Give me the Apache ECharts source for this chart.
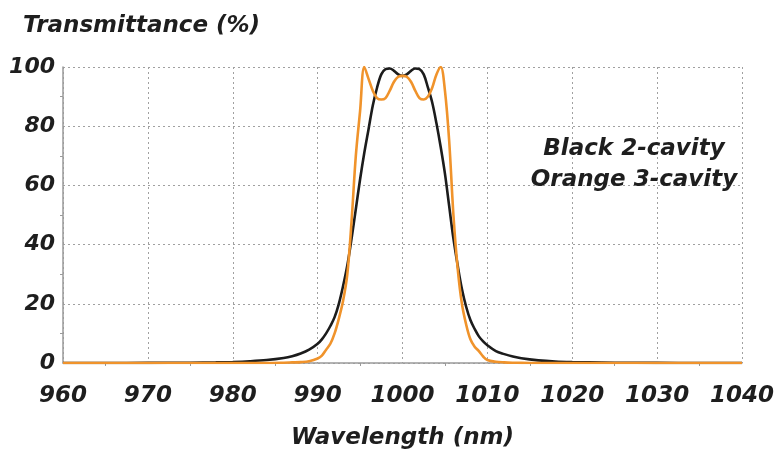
<!DOCTYPE html>
<html>
<head>
<meta charset="utf-8">
<script src="https://cdn.jsdelivr.net/npm/echarts@6/dist/echarts.min.js"></script>
<style>
  html, body { margin: 0; padding: 0; background: #fff; }
  #chart { width: 778px; height: 457px; }
</style>
</head>
<body>
<div id="chart"></div>
<script>
// Wavelength samples (nm), denser across the passband
const wavelengths = [
  960, 965, 970, 975, 978, 980, 982, 984, 986, 987, 988, 989, 990, 990.5, 991, 991.5,
  992, 992.5, 993, 993.5, 994, 994.5, 995, 995.5, 996, 996.5, 997, 997.5, 998, 998.5,
  999, 999.5, 1000, 1000.5, 1001, 1001.5, 1002, 1002.5, 1003, 1003.5, 1004, 1004.5,
  1005, 1005.5, 1006, 1006.5, 1007, 1007.5, 1008, 1008.5, 1009, 1009.5, 1010, 1011,
  1012, 1013, 1014, 1016, 1018, 1020, 1022, 1025, 1030, 1035, 1040
];

// Transmittance (%) of the 2-cavity filter
const twoCavity = [
  0, 0, 0.05, 0.1, 0.2, 0.35, 0.6, 1.0, 1.7, 2.3, 3.2, 4.5, 6.5, 8, 10, 12.5,
  15.5, 20, 26, 33, 42, 52, 62, 71, 79, 87, 93, 97.5, 99.3, 99.5,
  98.7, 97.5, 97, 97.5, 98.7, 99.5, 99.3, 97.5, 93, 88, 81, 73,
  64, 53, 42, 33, 25, 19, 14.5, 11.5, 9, 7.3, 6, 4,
  3, 2.2, 1.6, 0.9, 0.5, 0.3, 0.2, 0.1, 0.05, 0, 0
];

// Transmittance (%) of the 3-cavity filter
const threeCavity = [
  0, 0, 0, 0, 0, 0, 0, 0, 0.1, 0.2, 0.3, 0.6, 1.5, 2.5, 4.5, 6.5,
  10, 15, 21, 30, 48, 70, 85, 100, 96, 92, 89.5, 89, 89.5, 92,
  95, 96.7, 97, 96.7, 95, 92, 89.5, 89, 90, 93, 97.5, 100,
  92, 75, 50, 32, 20, 13, 8, 5.5, 4, 2.2, 1, 0.4,
  0.2, 0.1, 0.05, 0, 0, 0, 0, 0, 0, 0, 0
];

const xTicks = { min: 960, max: 1040, step: 10 };
const yTicks = { min: 0, max: 100, step: 20 };

const labels = {
  yTitle: 'Transmittance (%)',
  xTitle: 'Wavelength (nm)',
  note1: 'Black 2-cavity',
  note2: 'Orange 3-cavity'
};

const pair = (xs, ys) => xs.map((x, i) => [x, ys[i]]);

const FONT = '"DejaVu Sans", Verdana, sans-serif';
const TEXT_COLOR = '#1e1e1e';
const boldItalic = (size) => ({ fontFamily: FONT, fontSize: size, fontWeight: 'bold', fontStyle: 'italic', color: TEXT_COLOR });
const gridLine = { show: true, lineStyle: { color: '#a0a0a0', width: 1, type: [2, 3] } };

const chart = echarts.init(document.getElementById('chart'), null, { renderer: 'canvas' });

chart.setOption({
  animation: false,
  backgroundColor: '#fff',
  textStyle: { fontFamily: FONT },
  title: {
    text: labels.yTitle,
    left: 18,
    top: 10,
    textStyle: boldItalic(23)
  },
  grid: { left: 63, right: 36, top: 67, bottom: 94 },
  xAxis: {
    type: 'value',
    min: xTicks.min,
    max: xTicks.max,
    interval: xTicks.step,
    name: labels.xTitle,
    nameLocation: 'middle',
    nameGap: 64,
    nameTextStyle: boldItalic(23),
    axisLine: { show: true, lineStyle: { color: '#9a9a9a', width: 1.5 } },
    axisTick: { show: false },
    minorTick: { show: true, splitNumber: 2, length: 3, lineStyle: { color: '#9a9a9a' } },
    axisLabel: Object.assign({ margin: 22, formatter: (v) => String(v) }, boldItalic(23)),
    splitLine: gridLine
  },
  yAxis: {
    type: 'value',
    min: yTicks.min,
    max: yTicks.max,
    interval: yTicks.step,
    axisLine: { show: true, lineStyle: { color: '#9a9a9a', width: 1.5 } },
    axisTick: { show: false },
    minorTick: { show: true, splitNumber: 2, length: 3, lineStyle: { color: '#9a9a9a' } },
    axisLabel: Object.assign({ margin: 8, padding: [7, 0, 0, 0], formatter: (v) => String(v) }, boldItalic(22)),
    splitLine: gridLine
  },
  graphic: [
    {
      type: 'text',
      x: 634,
      y: 134,
      style: {
        text: labels.note1 + '\n' + labels.note2,
        fill: TEXT_COLOR,
        font: 'italic bold 23px ' + FONT,
        align: 'center',
        verticalAlign: 'top',
        lineHeight: 31
      },
      z: 10
    }
  ],
  series: [
    {
      name: labels.note1,
      type: 'line',
      data: pair(wavelengths, twoCavity),
      smooth: 0.35,
      showSymbol: false,
      lineStyle: { color: '#1c1c1c', width: 2.6 },
      z: 3
    },
    {
      name: labels.note2,
      type: 'line',
      data: pair(wavelengths, threeCavity),
      smooth: 0.35,
      showSymbol: false,
      lineStyle: { color: '#f0932b', width: 2.6 },
      z: 4
    }
  ]
});
</script>
</body>
</html>
